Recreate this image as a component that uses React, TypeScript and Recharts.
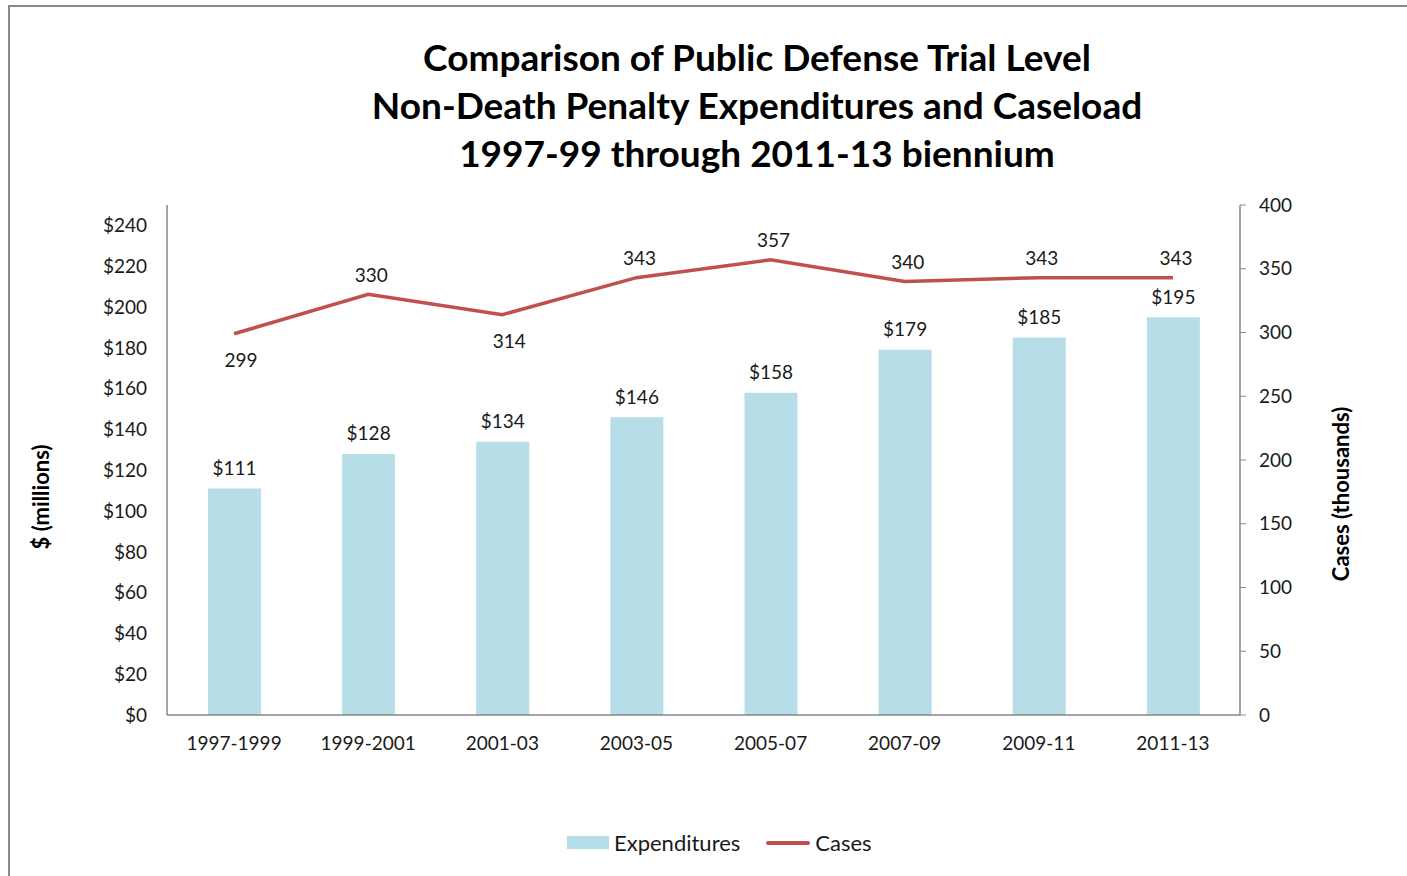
import React from 'react';
import {
  Bar,
  ComposedChart,
  LabelList,
  Line,
  XAxis,
  YAxis,
} from 'recharts';

const categories = ['1997-1999', '1999-2001', '2001-03', '2003-05', '2005-07', '2007-09', '2009-11', '2011-13'];
const expenditures = [111, 128, 134, 146, 158, 179, 185, 195];
const cases = [299, 330, 314, 343, 357, 340, 343, 343];
const leftTicks = [0, 20, 40, 60, 80, 100, 120, 140, 160, 180, 200, 220, 240];
const rightTicks = [0, 50, 100, 150, 200, 250, 300, 350, 400];
// labels for these points sit under the line
const casesBelow = [0, 2];

const font = 'Lato, "Open Sans", sans-serif';
const ink = '#1a1a1a';
const axisGray = '#868686';
const barBlue = '#B7DEE8';
const lineRed = '#C0504D';

const data = categories.map((c, i) => ({ name: c, exp: expenditures[i], cases: cases[i] }));

const tickStyle = { fill: ink, fontSize: 19, fontFamily: font };

function BarValue(props: any) {
  const { x, y, width, value } = props;
  return (
    <text x={x + width / 2} y={y - 21} textAnchor="middle" dominantBaseline="central" style={tickStyle}>
      {`$${value}`}
    </text>
  );
}

function CaseValue(props: any) {
  const { x, y, value, index } = props;
  const below = casesBelow.includes(index);
  return (
    <text x={x + (below ? 7 : 3)} y={y + (below ? 26 : -20)} textAnchor="middle" dominantBaseline="central" style={tickStyle}>
      {value}
    </text>
  );
}

function LegendBox() {
  return (
    <div
      style={{
        position: 'absolute',
        left: 557,
        top: 822,
        display: 'flex',
        alignItems: 'center',
        fontFamily: font,
        fontSize: 22,
        color: ink,
        whiteSpace: 'nowrap',
      }}
    >
      <span style={{ width: 42, height: 13, background: barBlue, display: 'inline-block', marginRight: 5 }} />
      <span style={{ marginRight: 26 }}>Expenditures</span>
      <span style={{ width: 44, height: 4, background: lineRed, borderRadius: 2, display: 'inline-block', marginRight: 5 }} />
      <span>Cases</span>
    </div>
  );
}

const sideLabel = {
  position: 'absolute' as const,
  transform: 'translate(-50%, -50%) rotate(-90deg)',
  fontFamily: font,
  fontWeight: 700,
  fontSize: 22,
  whiteSpace: 'nowrap' as const,
  color: '#000',
};

export default function App() {
  return (
    <div style={{ position: 'absolute', left: 8, top: 5, width: 1410, height: 890, border: '2px solid #8a8a8a', background: '#fff', boxSizing: 'border-box' }}>
      <div
        style={{
          position: 'absolute',
          left: 0,
          width: 1494,
          top: 26,
          textAlign: 'center',
          fontFamily: font,
          fontWeight: 700,
          fontSize: 37,
          lineHeight: '48px',
          color: '#000',
        }}
      >
        Comparison of Public Defense Trial Level
        <br />
        Non-Death Penalty Expenditures and Caseload
        <br />
        1997-99 through 2011-13 biennium
      </div>
      <div style={{ ...sideLabel, left: 30, top: 490 }}>$ (millions)</div>
      <div style={{ ...sideLabel, left: 1330, top: 487 }}>Cases (thousands)</div>
      <ComposedChart
        width={1406}
        height={880}
        data={data}
        margin={{ top: 198, right: 116, bottom: 142, left: 77 }}
        barCategoryGap="30%"
      >
        <XAxis
          dataKey="name"
          height={30}
          tick={tickStyle}
          tickLine={false}
          tickMargin={16}
          axisLine={{ stroke: axisGray, strokeWidth: 1.5 }}
        />
        <YAxis
          yAxisId="left"
          domain={[0, 250]}
          ticks={leftTicks}
          tickFormatter={(v: number) => `$${v}`}
          tick={tickStyle}
          tickLine={false}
          tickMargin={14}
          axisLine={{ stroke: axisGray, strokeWidth: 1.5 }}
          width={80}
          interval={0}
        />
        <YAxis
          yAxisId="right"
          orientation="right"
          domain={[0, 400]}
          ticks={rightTicks}
          tick={{ ...tickStyle, textAnchor: 'start' }}
          tickLine={{ stroke: axisGray }}
          tickSize={6}
          tickMargin={13}
          axisLine={{ stroke: axisGray, strokeWidth: 1.5 }}
          width={60}
          interval={0}
        />
        <Bar yAxisId="left" dataKey="exp" name="Expenditures" fill={barBlue} barSize={53} isAnimationActive={false}>
          <LabelList dataKey="exp" content={<BarValue />} />
        </Bar>
        <Line
          yAxisId="right"
          dataKey="cases"
          name="Cases"
          stroke={lineRed}
          strokeWidth={3.5}
          dot={false}
          isAnimationActive={false}
        >
          <LabelList dataKey="cases" content={<CaseValue />} />
        </Line>
      </ComposedChart>
      <LegendBox />
    </div>
  );
}
